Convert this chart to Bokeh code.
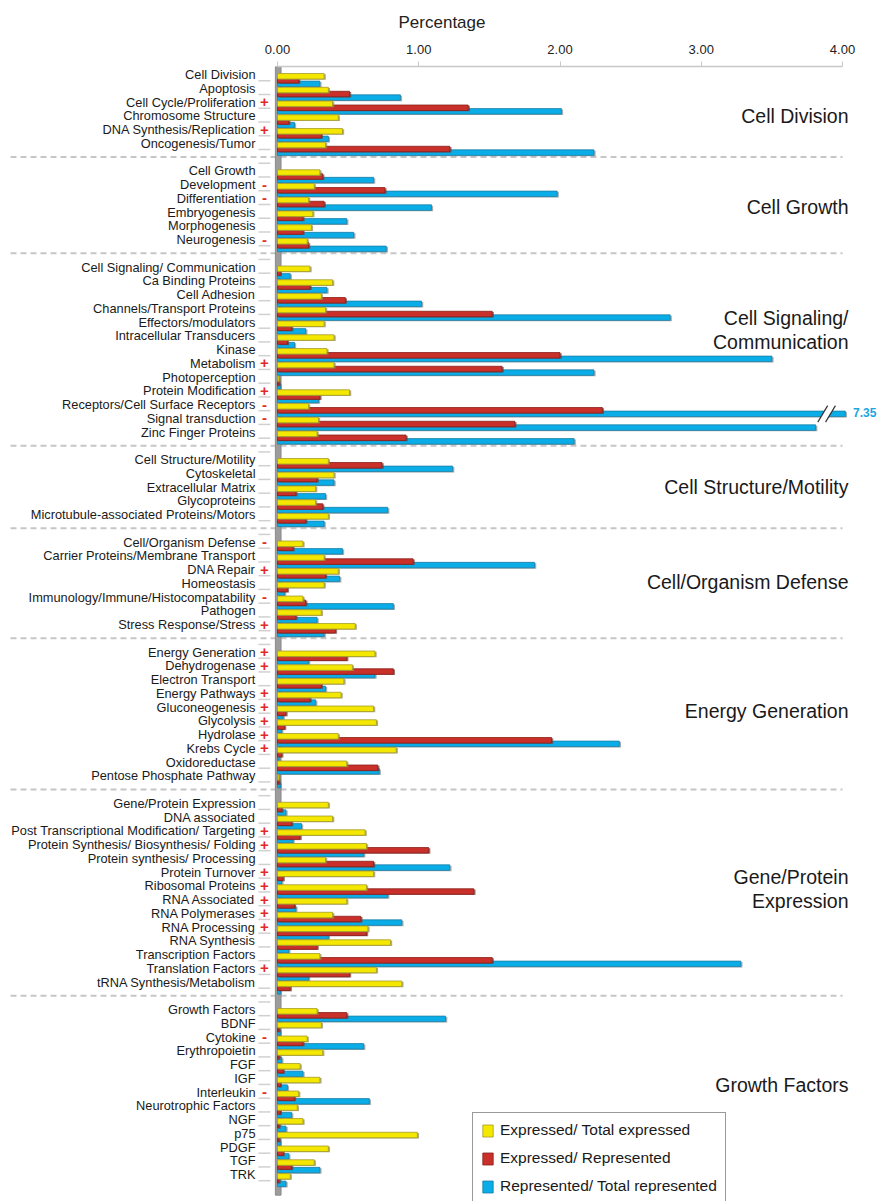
import numpy as np
from bokeh.plotting import figure
from bokeh.models import Range1d, FixedTicker, NumeralTickFormatter, ColumnDataSource, Legend, LegendItem
from bokeh.core.properties import value
from bokeh.embed import file_html
from bokeh.resources import INLINE

# ---------------- data ----------------
section_titles = [["Cell Division"], ["Cell Growth"], ["Cell Signaling/", "Communication"],
                  ["Cell Structure/Motility"], ["Cell/Organism Defense"], ["Energy Generation"],
                  ["Gene/Protein", "Expression"], ["Growth Factors"]]
section_sizes = [6, 6, 13, 5, 7, 10, 14, 13]

categories = [
    "Cell Division", "Apoptosis", "Cell Cycle/Proliferation", "Chromosome Structure",
    "DNA Synthesis/Replication", "Oncogenesis/Tumor",
    "Cell Growth", "Development", "Differentiation", "Embryogenesis", "Morphogenesis", "Neurogenesis",
    "Cell Signaling/ Communication", "Ca Binding Proteins", "Cell Adhesion", "Channels/Transport Proteins",
    "Effectors/modulators", "Intracellular Transducers", "Kinase", "Metabolism", "Photoperception",
    "Protein Modification", "Receptors/Cell Surface Receptors", "Signal transduction", "Zinc Finger Proteins",
    "Cell Structure/Motility", "Cytoskeletal", "Extracellular Matrix", "Glycoproteins",
    "Microtubule-associated Proteins/Motors",
    "Cell/Organism Defense", "Carrier Proteins/Membrane Transport", "DNA Repair", "Homeostasis",
    "Immunology/Immune/Histocompatability", "Pathogen", "Stress Response/Stress",
    "Energy Generation", "Dehydrogenase", "Electron Transport", "Energy Pathways", "Gluconeogenesis",
    "Glycolysis", "Hydrolase", "Krebs Cycle", "Oxidoreductase", "Pentose Phosphate Pathway",
    "Gene/Protein Expression", "DNA associated", "Post Transcriptional Modification/ Targeting",
    "Protein Synthesis/ Biosynthesis/ Folding", "Protein synthesis/ Processing", "Protein Turnover",
    "Ribosomal Proteins", "RNA Associated", "RNA Polymerases", "RNA Processing", "RNA Synthesis",
    "Transcription Factors", "Translation Factors", "tRNA Synthesis/Metabolism",
    "Growth Factors", "BDNF", "Cytokine", "Erythropoietin", "FGF", "IGF", "Interleukin",
    "Neurotrophic Factors", "NGF", "p75", "PDGF", "TGF", "TRK",
]
signs = [
    "", "", "+", "", "+", "",
    "", "-", "-", "", "", "-",
    "", "", "", "", "", "", "", "+", "", "+", "-", "-", "",
    "", "", "", "", "",
    "-", "", "+", "", "-", "", "+",
    "+", "+", "", "+", "+", "+", "+", "+", "", "",
    "", "", "+", "+", "", "+", "+", "+", "+", "+", "", "", "+", "",
    "", "", "-", "", "", "", "-", "", "", "", "", "", "",
]
expressed_total = [
    0.33, 0.36, 0.39, 0.43, 0.46, 0.34,
    0.30, 0.26, 0.22, 0.25, 0.24, 0.21,
    0.23, 0.39, 0.31, 0.34, 0.33, 0.40, 0.35, 0.40, 0.01, 0.51, 0.22, 0.29, 0.28,
    0.36, 0.40, 0.27, 0.27, 0.36,
    0.18, 0.33, 0.43, 0.33, 0.18, 0.31, 0.55,
    0.69, 0.53, 0.47, 0.45, 0.68, 0.70, 0.43, 0.84, 0.49, 0.01,
    0.36, 0.39, 0.62, 0.63, 0.34, 0.68, 0.63, 0.49, 0.39, 0.64, 0.80, 0.30, 0.70, 0.88,
    0.28, 0.31, 0.21, 0.32, 0.16, 0.30, 0.15, 0.14, 0.18, 0.99, 0.36, 0.26, 0.09,
]
expressed_represented = [
    0.15, 0.51, 1.35, 0.08, 0.31, 1.22,
    0.32, 0.76, 0.33, 0.18, 0.18, 0.22,
    0.02, 0.23, 0.48, 1.52, 0.10, 0.07, 2.00, 1.59, 0.01, 0.30, 2.30, 1.68, 0.91,
    0.74, 0.28, 0.13, 0.32, 0.20,
    0.11, 0.96, 0.34, 0.07, 0.20, 0.13, 0.41,
    0.49, 0.82, 0.31, 0.23, 0.06, 0.05, 1.94, 0.03, 0.71, 0.01,
    0.03, 0.10, 0.16, 1.07, 0.68, 0.04, 1.39, 0.12, 0.59, 0.63, 0.28, 1.52, 0.51, 0.09,
    0.49, 0.01, 0.18, 0.01, 0.04, 0.02, 0.12, 0.02, 0.01, 0.01, 0.04, 0.10, 0.01,
]
represented_total = [
    0.30, 0.87, 2.01, 0.12, 0.36, 2.24,
    0.68, 1.98, 1.09, 0.49, 0.54, 0.77,
    0.09, 0.35, 1.02, 2.78, 0.20, 0.12, 3.50, 2.24, 0.02, 0.29, 7.35, 3.81, 2.10,
    1.24, 0.40, 0.34, 0.78, 0.33,
    0.46, 1.82, 0.44, 0.05, 0.82, 0.28, 0.33,
    0.22, 0.69, 0.34, 0.27, 0.04, 0.03, 2.42, 0.01, 0.72, 0.02,
    0.06, 0.17, 0.11, 0.61, 1.22, 0.03, 0.78, 0.13, 0.88, 0.36, 0.08, 3.28, 0.22, 0.02,
    1.19, 0.02, 0.61, 0.03, 0.18, 0.07, 0.65, 0.10, 0.06, 0.02, 0.08, 0.30, 0.06,
]
x_ticks = [0, 1, 2, 3, 4]
series_labels = ["Expressed/ Total expressed", "Expressed/ Represented", "Represented/ Total represented"]

# ---------------- layout ----------------
FONT = "Liberation Sans"
AXIS_MAX = 4.0
CAP = 4.02  # where a broken bar is cut
W, H = 883, 1201
PX = 141.25      # pixels per percentage unit
ZERO_X = 277     # pixel position of 0
SLOT = 13.75     # pixels per row
ROW0_Y = 74      # pixel position of first row
TOP = 66         # pixel position of the top axis line

rows, seps, title_y, title_txt = [], [], [], []
title_shift = [0.5, 0.1, -1.4, 0.0, -0.1, -0.2, -0.25, -0.5]
slot = 0
for si, size in enumerate(section_sizes):
    start = slot
    for _ in range(size):
        rows.append(slot)
        slot += 1
    mid = start + (size - 1) / 2 + title_shift[si]
    lines = section_titles[si]
    for li, t in enumerate(lines):
        title_y.append(mid + (li - (len(lines) - 1) / 2) * 1.75)
        title_txt.append(t)
    if si < len(section_sizes) - 1:
        seps.append(slot)
        slot += 1
n_slots = slot

rows = np.array(rows, dtype=float)
rep_arr = np.array(represented_total)
broken = rep_arr > AXIS_MAX
b_disp = np.minimum(rep_arr, CAP)
src = ColumnDataSource(dict(
    cat=categories, sign=signs,
    y=rows, ye=rows + 0.13, yr=rows + 0.42, yb=rows + 0.68,
    e=expressed_total, r=expressed_represented, b=b_disp,
    e_s=np.array(expressed_total) + 0.012, r_s=np.array(expressed_represented) + 0.012,
    b_s=b_disp + 0.012,
    ye_s=rows + 0.19, yr_s=rows + 0.48, yb_s=rows + 0.74,
))

x0, x1 = -ZERO_X / PX, (W - ZERO_X) / PX
y_top, y_bot = (TOP - ROW0_Y) / SLOT, (H - ROW0_Y) / SLOT

p = figure(width=W, height=H, x_range=Range1d(x0, x1), y_range=Range1d(y_bot, y_top),
           output_backend="svg", toolbar_location=None, x_axis_location="above",
           y_axis_location=None, min_border=0, min_border_top=TOP)
p.outline_line_color = None
p.xgrid.visible = False
p.ygrid.visible = False
p.background_fill_color = "white"

ax = p.xaxis[0]
ax.ticker = FixedTicker(ticks=x_ticks)
ax.formatter = NumeralTickFormatter(format="0.00")
ax.bounds = (0, AXIS_MAX)
ax.axis_label = "Percentage"
ax.axis_label_text_font = FONT
ax.axis_label_text_font_size = "17px"
ax.axis_label_text_font_style = "normal"
ax.axis_label_text_color = "#222222"
ax.axis_label_standoff = 10
ax.major_label_text_font = FONT
ax.major_label_text_font_size = "13px"
ax.major_label_text_color = "#222222"
ax.major_label_standoff = 8
ax.axis_line_color = "#c8c8c8"
ax.axis_line_width = 1.5
ax.major_tick_line_color = "#c8c8c8"
ax.major_tick_out = 5
ax.major_tick_in = 0
ax.minor_tick_line_color = None

# separators
p.segment(x0=(10 - ZERO_X) / PX, x1=AXIS_MAX, y0=seps, y1=seps, line_color="#c6c6c6", line_width=2, line_dash="6 4")
# small ticks left of the wall
ticks_y = np.arange(n_slots) + 0.45
p.segment(x0=-0.135, x1=-0.05, y0=ticks_y, y1=ticks_y, line_color="#d0d0d0", line_width=1.5)
# gray wall
p.quad(left=-0.015, right=0.025, top=y_top, bottom=81.5, fill_color="#9c9c9c", line_color="#8a8a8a")

# bars (blue behind, then red, then yellow)
p.hbar(y="yb_s", left=0.012, right="b_s", height=0.4, source=src, fill_color="#7d8a90", line_color=None, fill_alpha=0.7)
rb = p.hbar(y="yb", left=0, right="b", height=0.4, source=src, fill_color="#0aade8", line_color="#1b7fa6", line_width=0.8)
p.hbar(y="yr_s", left=0.012, right="r_s", height=0.4, source=src, fill_color="#6e3a36", line_color=None, fill_alpha=0.7)
rr = p.hbar(y="yr", left=0, right="r", height=0.4, source=src, fill_color="#c9302a", line_color="#8a1f1a", line_width=0.8)
p.hbar(y="ye_s", left=0.012, right="e_s", height=0.4, source=src, fill_color="#8f8a55", line_color=None, fill_alpha=0.7)
ry = p.hbar(y="ye", left=0, right="e", height=0.4, source=src, fill_color="#f5e800", line_color="#a59a2a", line_width=0.8)

# break marks on bars exceeding the axis
for i in np.where(broken)[0]:
    yb = rows[i] + 0.68
    xa, xb, d = 3.86, 3.915, 0.035
    p.patch(x=[xa - d, xb - d, xb + d, xa + d], y=[yb + 0.55, yb + 0.55, yb - 0.55, yb - 0.55],
            fill_color="white", line_color=None)
    p.segment(x0=[xa - d, xb - d], y0=[yb + 0.6, yb + 0.6], x1=[xa + d, xb + d], y1=[yb - 0.6, yb - 0.6],
              line_color="#333333", line_width=1.2)
    p.text(x=[CAP + 0.055], y=[yb - 0.1], text=[f"{rep_arr[i]:.2f}"], text_align="left", text_baseline="middle",
           text_font=value(FONT), text_font_size="12px", text_font_style="bold", text_color="#1ba6e0")

# category labels and signs
p.text(x=(255 - ZERO_X) / PX, y="y", text="cat", source=src, text_align="right", text_baseline="middle",
       text_font=value(FONT), text_font_size="12.8px", text_color="#1a1a1a")
p.text(x=(264 - ZERO_X) / PX, y="y", text="sign", source=src, text_align="center", text_baseline="middle",
       text_font=value(FONT), text_font_size="15px", text_font_style="bold", text_color="#e5282a")

# section titles
p.text(x=(848 - ZERO_X) / PX, y=title_y, text=title_txt, text_align="right", text_baseline="middle",
       text_font=value(FONT), text_font_size="19.5px", text_color="#1a1a1a")

legend = Legend(items=[LegendItem(label=series_labels[0], renderers=[ry]),
                       LegendItem(label=series_labels[1], renderers=[rr]),
                       LegendItem(label=series_labels[2], renderers=[rb])],
                location=(472, -3))
legend.label_text_font = FONT
legend.label_text_font_size = "15.5px"
legend.label_text_color = "#1a1a1a"
legend.glyph_width = 13
legend.glyph_height = 15
legend.label_height = 15
legend.label_standoff = 6
legend.spacing = 10
legend.padding = 8
legend.margin = 0
legend.border_line_color = "#333333"
legend.border_line_width = 1.5
legend.background_fill_alpha = 1
p.add_layout(legend)

open("out.html", "w").write(file_html(p, INLINE))
